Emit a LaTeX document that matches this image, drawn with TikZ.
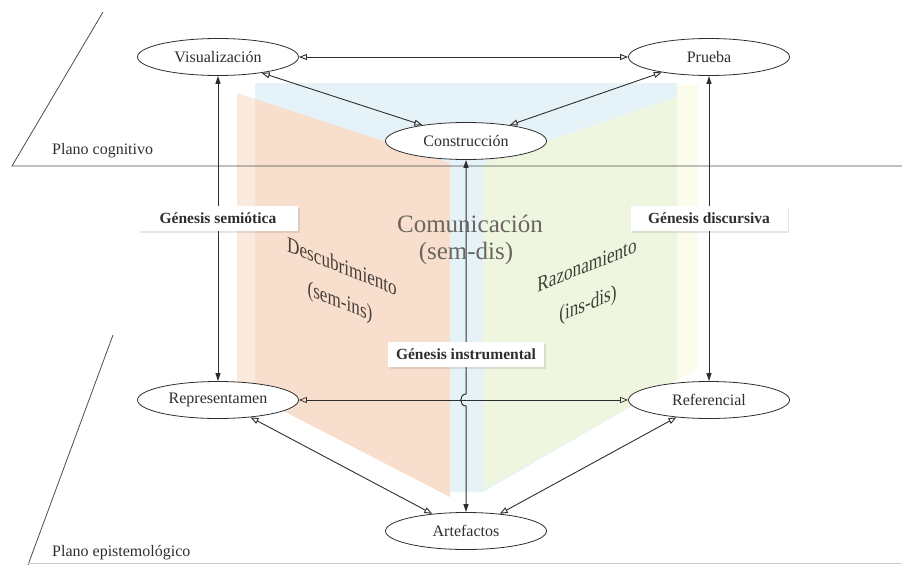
\documentclass[tikz,border=0pt]{standalone}
\usepackage{fontspec}
\setmainfont{Liberation Serif}
\usetikzlibrary{arrows.meta,shapes.geometric,shadows}
\definecolor{ink}{HTML}{2E2E2E}
\definecolor{pblue}{HTML}{E5F3F8}
\definecolor{porange}{HTML}{F8DFCD}
\definecolor{pgreen}{HTML}{EFF6E0}
\definecolor{pyellow}{HTML}{FBFCEC}
\definecolor{comc}{HTML}{6B6560}
\definecolor{desc}{HTML}{453C38}
\definecolor{razc}{HTML}{3A4238}
\begin{document}
\begin{tikzpicture}[x=1pt,y=-1pt,
  concept/.style={ellipse,draw=ink,line width=0.8pt,fill=white,minimum width=161pt,minimum height=37pt,inner sep=0pt,font=\fontsize{16}{18}\selectfont,text=ink},
  genbox/.style={rectangle,fill=white,inner sep=0pt,minimum height=25pt,font=\bfseries\fontsize{15.5}{17}\selectfont,text=ink,drop shadow={opacity=0.2,shadow xshift=1.5pt,shadow yshift=-2.5pt}},
  biarrow/.style={draw=ink,line width=0.9pt,{Triangle[open,length=8pt,width=6pt]}-{Triangle[open,length=8pt,width=6pt]}},
  vertarrow/.style={draw=ink,line width=1pt,{Triangle[length=8pt,width=5pt]}-{Triangle[length=8pt,width=5pt]}},
  plane/.style={draw=ink!85,line width=0.8pt},
  slanttext/.style={font=\fontsize{22}{24}\selectfont,inner sep=0pt}
]
\useasboundingbox (0,0) rectangle (902,565);
% colored panels
\fill[pblue] (255,83) -- (677,83) -- (677,380) -- (483,492) -- (450,492) -- (255,395) -- cycle;
\fill[pyellow] (677,85) -- (698,85) -- (698,370) -- (677,380) -- cycle;
\fill[porange] (237,93) -- (450,163) -- (450,497) -- (237,387) -- cycle;
\fill[white,opacity=0.35] (237,93) -- (255,99) -- (255,396) -- (237,387) -- cycle;
\fill[pgreen] (483,163) -- (677,97) -- (677,380) -- (483,490) -- cycle;
% planes
\draw[plane] (103,12) -- (12,166) -- (902,166);
\draw[plane] (113,335) -- (28,565);
\draw[draw=ink!25,line width=0.6pt] (28,563) -- (902,563);
\node[anchor=west,font=\fontsize{16}{18}\selectfont,text=ink,inner sep=0pt] (pc) at (52,151) {Plano cognitivo};
\node[anchor=west,font=\fontsize{16}{18}\selectfont,text=ink,inner sep=0pt] (pe) at (52,553) {Plano epistemológico};
% nodes
\node[concept] (V) at (218,57) {Visualización};
\node[concept] (P) at (709,57) {Prueba};
\node[concept] (C) at (466,141) {Construcción};
\node[concept] (R) at (218,400) {Representamen};
\node[concept] (F) at (709,400) {Referencial};
\node[concept] (A) at (466,531) {Artefactos};
% connectors
\draw[biarrow] (V) -- (P);
\draw[biarrow] (V.-20) -- (C.160);
\draw[biarrow] (P.198) -- (C.20);
\draw[biarrow,line width=0.7pt] (R) -- (F);
\draw[biarrow] (R.-28) -- (A.153);
\draw[biarrow] (F.208) -- (A.27);
\draw[vertarrow] (V) -- (R);
\draw[vertarrow] (P) -- (F);
\coordinate (h1) at (466,394);
\coordinate (h2) at (466,406);
\draw[vertarrow] (C) -- (h1) .. controls +(-7,0) and +(-7,0) .. (h2) -- (A);
% panel texts
\node[font=\fontsize{25}{27}\selectfont,text=comc,inner sep=0pt] (com1) at (470,224) {Comunicación};
\node[font=\fontsize{25}{27}\selectfont,text=comc,inner sep=0pt] (com2) at (466,253) {(sem-dis)};
\node[slanttext,text=desc,yslant=-0.4,xscale=0.78] (des1) at (342,266) {Descubrimiento};
\node[slanttext,text=desc,yslant=-0.4,xscale=0.78] (des2) at (340,303) {(sem-ins)};
\node[slanttext,text=razc,yslant=0.4,xscale=0.78] (raz1) at (587,265) {Razonamiento};
\node[slanttext,text=razc,yslant=0.4,xscale=0.78] (raz2) at (588,305) {(ins-dis)};
% genesis boxes
\node[genbox,minimum width=160pt] (gs) at (218,218) {Génesis semiótica};
\node[genbox,minimum width=157pt] (gd) at (709,218) {Génesis discursiva};
\node[genbox,minimum width=156pt] (gi) at (466,354) {Génesis instrumental};
\end{tikzpicture}
\end{document}
